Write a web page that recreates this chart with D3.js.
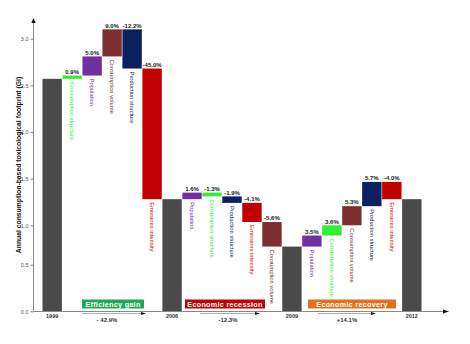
<!DOCTYPE html>
<html><head><meta charset="utf-8">
<script src="https://cdn.jsdelivr.net/npm/d3@7"></script>
<style>body{margin:0;background:#fff}svg{display:block;font-family:"Liberation Sans",Arial,sans-serif}</style>
</head><body><svg id="c" width="470" height="344"></svg>
<script>
// categories (bars in order)
const categories = ["1999","Consumption structure","Population","Consumption volume","Production structure","Emissions intensity",
  "2006","Population","Consumption structure","Production structure","Emissions intensity","Consumption volume",
  "2009","Population","Consumption structure","Consumption volume","Production structure","Emissions intensity","2012"];
// change in GI for each factor; totals marked null (running total), first is the start value
const deltas = [2.57, 0.035, 0.205, 0.29, -0.42, -1.40,
  null, 0.07, -0.04, -0.07, -0.205, -0.305,
  null, 0.14, 0.13, 0.205, 0.26, -0.185, null];
const pctLabels = ["", "0.9%", "5.0%", "9.0%", "-12.2%", "-45.0%",
  "", "1.6%", "-1.3%", "-1.9%", "-4.1%", "-5.6%",
  "", "3.5%", "3.6%", "5.3%", "5.7%", "-4.0%", ""];
const yTicks = [0, 0.5, 1.0, 1.5, 2.0, 2.5, 3.0];
const periodNames = ["Efficiency gain", "Economic recession", "Economic recovery"];
const periodChanges = ["- 42.9%", "-12.3%", "+14.1%"];
const periodRange = [[0, 6], [6, 12], [12, 18]];
const yTitle = "Annual consumption-based toxicological footprint (GI)";

const colors = {
  "Consumption structure": "#33ee33",
  "Population": "#7030a0",
  "Consumption volume": "#7b2f2f",
  "Production structure": "#0c205e",
  "Emissions intensity": "#c00000"
};
const totalColor = "#4a4a4a";
const periodColors = ["#20a852", "#c40000", "#e2701c"];

// build waterfall
let run = 0;
const bars = categories.map((c, i) => {
  const d = deltas[i];
  if (i === 0) { run = d; return {i, c, total: true, y0: 0, y1: d}; }
  if (d === null) return {i, c, total: true, y0: 0, y1: run};
  const s = run; run += d;
  return {i, c, total: false, y0: Math.min(s, run), y1: Math.max(s, run), top: Math.max(s, run), bottom: Math.min(s, run)};
});

const svg = d3.select("#c");
const x = d3.scaleBand().domain(d3.range(categories.length)).range([42.5, 421.5]).paddingInner(0.03);
const y = d3.scaleLinear().domain([0, 0.5, 1, 3]).range([311.3, 264.7, 225.3, 38.7]);

// bars
svg.append("g").selectAll("rect").data(bars).join("rect")
  .attr("x", d => x(d.i)).attr("width", x.bandwidth())
  .attr("y", d => y(d.y1)).attr("height", d => Math.max(1, y(d.y0) - y(d.y1)))
  .attr("fill", d => d.total ? totalColor : colors[d.c]);

// percentage labels
svg.append("g").selectAll("text").data(bars.filter(d => !d.total)).join("text")
  .attr("x", d => x(d.i) + x.bandwidth() / 2).attr("y", d => y(d.y1) - 1.8)
  .attr("text-anchor", "middle").attr("font-size", 6).attr("font-weight", "bold").attr("fill", "#222")
  .text(d => pctLabels[d.i]);

// rotated factor labels
svg.append("g").selectAll("text").data(bars.filter(d => !d.total)).join("text")
  .attr("transform", d => `translate(${x(d.i) + x.bandwidth() / 2},${y(d.y0) + 3}) rotate(90)`)
  .attr("dy", "0.35em").attr("font-size", 5.8).attr("fill", d => colors[d.c])
  .text(d => d.c);

// y axis
const yAxis = d3.axisLeft(y).tickValues(yTicks).tickFormat(d3.format(".1f")).tickSize(3).tickPadding(2);
const ga = svg.append("g").attr("transform", "translate(33.5,0)").call(yAxis);
ga.select(".domain").attr("d", "M0,311.5V22").attr("stroke", "#888");
ga.selectAll(".tick line").attr("stroke", "#888");
ga.selectAll(".tick text").attr("font-size", 5.5).attr("fill", "#555").attr("font-family", "Liberation Sans, Arial");
svg.append("path").attr("d", "M33.5,18 L31.3,23 L35.7,23 Z").attr("fill", "#111");

// x axis
svg.append("line").attr("x1", 33.5).attr("x2", 444).attr("y1", 311.5).attr("y2", 311.5).attr("stroke", "#888");
svg.append("path").attr("d", "M449,311.5 L443,309.5 L443,313.5 Z").attr("fill", "#111");

// year labels
svg.append("g").selectAll("text").data(bars.filter(d => d.total)).join("text")
  .attr("x", d => x(d.i) + x.bandwidth() / 2).attr("y", 317.5)
  .attr("text-anchor", "middle").attr("font-size", 5.5).attr("font-weight", "bold").attr("fill", "#333")
  .text(d => d.c);

// period boxes, arrows and total changes
const boxX = [[82, 144], [185, 265], [308, 396]];
const arrowX = [[82, 146], [200, 260], [318, 376]];
periodNames.forEach((n, k) => {
  const g = svg.append("g");
  g.append("rect").attr("x", boxX[k][0]).attr("y", 299.5).attr("width", boxX[k][1] - boxX[k][0]).attr("height", 9)
    .attr("fill", periodColors[k]);
  g.append("text").attr("x", (boxX[k][0] + boxX[k][1]) / 2).attr("y", 306.8).attr("text-anchor", "middle")
    .attr("font-size", 7.2).attr("font-weight", "bold").attr("fill", "#fff").attr("letter-spacing", 0.3).text(n);
  g.append("line").attr("x1", arrowX[k][0]).attr("x2", arrowX[k][1] - 4).attr("y1", 313.5).attr("y2", 313.5)
    .attr("stroke", "#777").attr("stroke-width", 0.6);
  g.append("path").attr("d", `M${arrowX[k][1]},313.5 L${arrowX[k][1] - 5},312 L${arrowX[k][1] - 5},315 Z`).attr("fill", "#111");
  const cx = k === 0 ? 107 : (k === 1 ? 228 : 347);
  g.append("text").attr("x", cx).attr("y", 322).attr("text-anchor", "middle")
    .attr("font-size", 6).attr("font-weight", "bold").attr("fill", "#333").text(periodChanges[k]);
});

// y title
svg.append("text").attr("transform", "translate(19,165) rotate(-90)").attr("text-anchor", "middle")
  .attr("font-size", 6.8).attr("font-weight", "bold").attr("fill", "#111").attr("dy", "0.35em").text(yTitle);
</script></body></html>
